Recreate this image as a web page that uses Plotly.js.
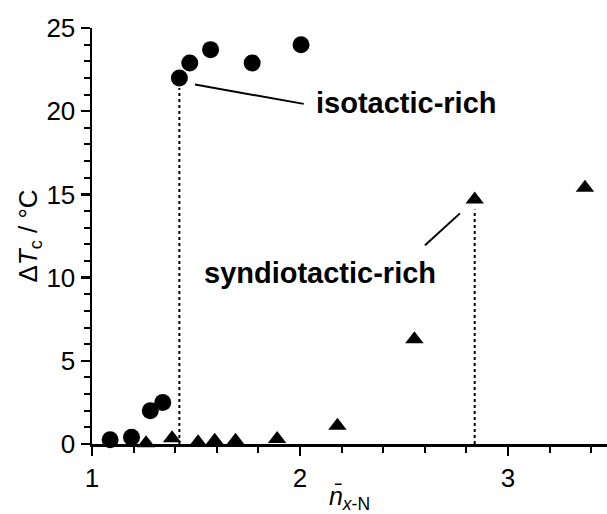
<!DOCTYPE html>
<html><head><meta charset="utf-8">
<script src="https://cdn.plot.ly/plotly-3.0.1.min.js"></script>
<style>body{margin:0;background:#fff}#c{width:607px;height:514px}</style>
</head><body><div id="c"></div>
<script>
// isotactic-rich (circles)
const isoX = [1.087, 1.19, 1.28, 1.34, 1.42, 1.47, 1.57, 1.77, 2.005];
const isoY = [0.25, 0.4, 2.0, 2.5, 22.0, 22.9, 23.7, 22.9, 24.0];
// syndiotactic-rich (triangles)
const synX = [1.08, 1.16, 1.26, 1.385, 1.51, 1.59, 1.69, 1.89, 2.18, 2.55, 2.84, 3.37];
const synY = [-0.15, -0.3, 0.05, 0.35, 0.1, 0.2, 0.2, 0.3, 1.1, 6.3, 14.7, 15.4];
// dotted drop lines at the transition points
const dropX = [1.42, 2.84];
const dropY = [22.0, 14.7];
// labels and leader lines
const labelText = ["isotactic-rich", "syndiotactic-rich"];
const labelX = [2.51, 2.096];
const labelY = [20.5, 10.3];
const leaderX0 = [1.495, 2.601], leaderY0 = [21.6, 11.94];
const leaderX1 = [2.018, 2.769], leaderY1 = [20.44, 13.86];
const xTicks = [1, 2, 3];
const yTicks = [0, 5, 10, 15, 20, 25];

const shapes = [];
dropX.forEach((x, i) => shapes.push({type:'line', xref:'x', yref:'y', x0:x, x1:x, y0:0, y1:dropY[i]-0.6,
  line:{color:'#000', width:2, dash:'dot'}}));
leaderX0.forEach((x, i) => shapes.push({type:'line', xref:'x', yref:'y', x0:x, x1:leaderX1[i], y0:leaderY0[i], y1:leaderY1[i],
  line:{color:'#000', width:2}}));

const annotations = labelText.map((t, i) => ({x:labelX[i], y:labelY[i], xref:'x', yref:'y', text:'<b>'+t+'</b>',
  showarrow:false, font:{family:'Liberation Sans, Arial', size:29, color:'#000'}}));

const data = [
  {x: synX, y: synY, mode:'markers', type:'scatter', cliponaxis:false,
   marker:{symbol:'triangle-up', size:16, color:'#000'}},
  {x: isoX, y: isoY, mode:'markers', type:'scatter', cliponaxis:false,
   marker:{symbol:'circle', size:17, color:'#000'}}
];

const font = {family:'Liberation Sans, Arial, sans-serif', size:26, color:'#000'};
const layout = {
  width:607, height:514, showlegend:false,
  paper_bgcolor:'#fff', plot_bgcolor:'#fff',
  margin:{l:92, r:0, t:28, b:70},
  font: font,
  xaxis:{range:[1, 3.476], tickvals:xTicks, ticktext:xTicks.map(String), ticks:'outside', ticklen:9, tickwidth:2.5,
    tickcolor:'#000', showline:true, linewidth:2.5, linecolor:'#000', showgrid:false, zeroline:false,
    minor:{dtick:0.2, tick0:1, ticks:'outside', ticklen:6, tickwidth:2, tickcolor:'#000', showgrid:false},
    tickfont:font,
    title:{text:'<i>n̄</i><sub><i>x</i>-N</sub>', font:{family:'Liberation Sans, Arial', size:25}, standoff:4}},
  yaxis:{range:[0, 25], tickvals:yTicks, ticktext:yTicks.map(String), ticks:'outside', ticklen:9, tickwidth:2.5,
    tickcolor:'#000', showline:true, linewidth:2.5, linecolor:'#000', showgrid:false, zeroline:false,
    minor:{dtick:1, ticks:'outside', ticklen:6, tickwidth:2, tickcolor:'#000', showgrid:false},
    tickfont:font,
    title:{text:'Δ<i>T</i><sub>c</sub> / °C', font:{family:'Liberation Sans, Arial', size:26}, standoff:2}},
  shapes: shapes,
  annotations: annotations
};
Plotly.newPlot('c', data, layout, {staticPlot:true});
</script></body></html>
